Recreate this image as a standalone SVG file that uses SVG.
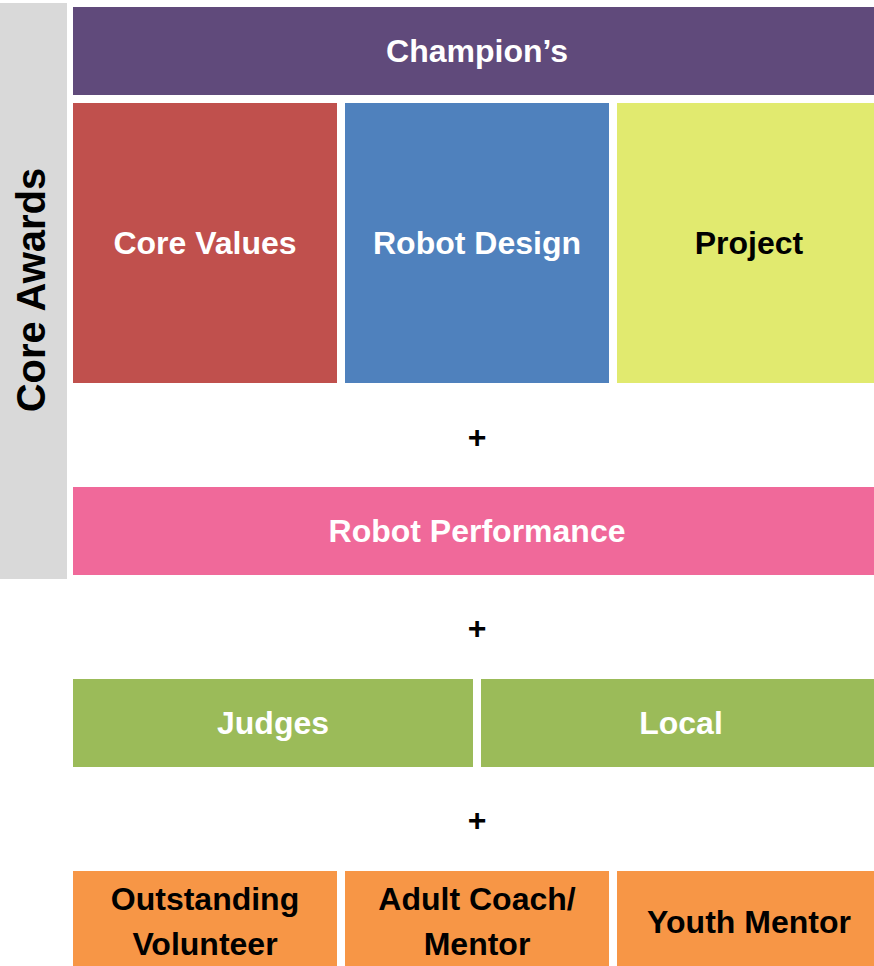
<svg xmlns="http://www.w3.org/2000/svg" width="874" height="966" viewBox="0 0 874 966">
<style>
text{font-family:"Liberation Sans",Arial,sans-serif;font-weight:bold;font-size:32px;text-anchor:middle;dominant-baseline:central}
.w{fill:#ffffff}
.k{fill:#000000}
.big{font-size:40px}
</style>
<rect width="874" height="966" fill="#ffffff"/>
<g id="core-awards">
<rect x="0" y="3" width="67" height="576" fill="#d9d9d9"/>
<text class="k big" transform="translate(31,290) rotate(-90)">Core Awards</text>
</g>
<g id="champions">
<rect x="73" y="7" width="801" height="88" fill="#604a7b"/>
<text class="w" x="477" y="51">Champion’s</text>
</g>
<g id="core-values">
<rect x="73" y="103" width="264" height="280" fill="#c0504d"/>
<text class="w" x="205" y="243">Core Values</text>
</g>
<g id="robot-design">
<rect x="345" y="103" width="264" height="280" fill="#4f81bd"/>
<text class="w" x="477" y="243">Robot Design</text>
</g>
<g id="project">
<rect x="617" y="103" width="257" height="280" fill="#e1ea6f"/>
<text class="k" x="749" y="243">Project</text>
</g>
<g id="plus1"><text class="k" x="477" y="437">+</text></g>
<g id="robot-performance">
<rect x="73" y="487" width="801" height="88" fill="#f0699a"/>
<text class="w" x="477" y="531">Robot Performance</text>
</g>
<g id="plus2"><text class="k" x="477" y="628">+</text></g>
<g id="judges">
<rect x="73" y="679" width="400" height="88" fill="#9bbb59"/>
<text class="w" x="273" y="723">Judges</text>
</g>
<g id="local">
<rect x="481" y="679" width="393" height="88" fill="#9bbb59"/>
<text class="w" x="681" y="723">Local</text>
</g>
<g id="plus3"><text class="k" x="477" y="820">+</text></g>
<g id="outstanding-volunteer">
<rect x="73" y="871" width="264" height="95" fill="#f79646"/>
<text class="k" x="205" y="899">Outstanding</text>
<text class="k" x="205" y="944">Volunteer</text>
</g>
<g id="adult-coach">
<rect x="345" y="871" width="264" height="95" fill="#f79646"/>
<text class="k" x="477" y="899">Adult Coach/</text>
<text class="k" x="477" y="944">Mentor</text>
</g>
<g id="youth-mentor">
<rect x="617" y="871" width="257" height="95" fill="#f79646"/>
<text class="k" x="749" y="922">Youth Mentor</text>
</g>
<g id="connectors"></g>
</svg>
